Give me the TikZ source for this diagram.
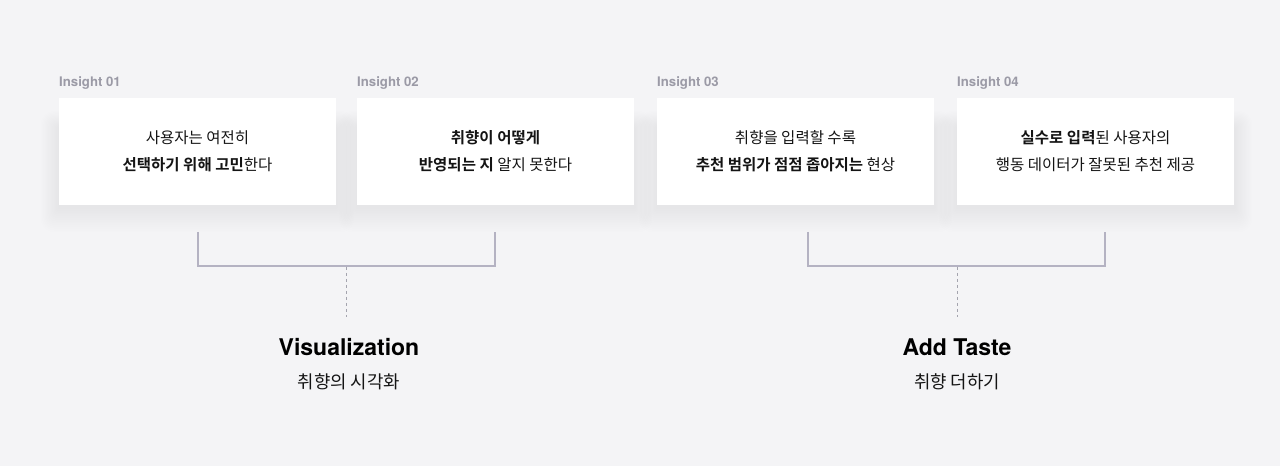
\documentclass[tikz,border=0pt]{standalone}
\usepackage{fontspec}
\setmainfont{TeX Gyre Heros}
\newfontfamily\krfont{Noto Sans CJK KR}[BoldFont={Noto Sans CJK KR Bold}]
\usepackage{tikz}
\usetikzlibrary{positioning}
\usetikzlibrary{backgrounds}
\definecolor{bg_gray}{HTML}{F4F4F6}
\definecolor{label_gray}{HTML}{9B9AA6}
\definecolor{line_gray}{HTML}{B4B2C2}
\definecolor{dash_gray}{HTML}{A4A4AE}
\definecolor{text_black}{HTML}{141414}
\definecolor{shade_gray}{HTML}{5A5A70}
\tikzset{
  card_box/.style={rectangle, fill=white, minimum width=277pt, minimum height=107pt, inner sep=0, align=center, text=text_black, font=\krfont\fontsize{15.5}{27}\selectfont},
  card_shade/.style={fill=shade_gray, fill opacity=0.0055},
  insight_label/.style={anchor=west, inner sep=0, text=label_gray, font=\bfseries\fontsize{13.2}{15}\selectfont},
  bracket_line/.style={line width=1.5pt, color=line_gray},
  dash_line/.style={line width=1pt, color=dash_gray, dash pattern=on 3pt off 3pt},
  title_text/.style={inner sep=0, text=black, font=\bfseries\fontsize{23}{26}\selectfont},
  sub_text/.style={inner sep=0, text=text_black, font=\krfont\fontsize{17.8}{20}\selectfont}
}

\begin{document}
\begin{tikzpicture}[x=1pt, y=1pt]

\begin{scope}[on background layer]
\fill[bg_gray] (0,0) rectangle (1280,466);
\end{scope}
\useasboundingbox (0,0) rectangle (1280,466);

% insight cards
\node[card_box] at (197.5,314.5) (card1) {사용자는 여전히\\\textbf{선택하기 위해 고민}한다};
\node[card_box] at (495.5,314.5) (card2) {\textbf{취향이 어떻게}\\\textbf{반영되는 지} 알지 못한다};
\node[card_box] at (795.5,314.5) (card3) {취향을 입력할 수록\\\textbf{추천 범위가 점점 좁아지는} 현상};
\node[card_box] at (1095.5,314.5) (card4) {\textbf{실수로 입력}된 사용자의\\행동 데이터가 잘못된 추천 제공};

% soft shadows under the cards
\begin{scope}[on background layer]
\foreach \c in {card1,card2,card3,card4}{
  \foreach \i in {1,...,14}{
    \fill[card_shade, rounded corners=\i pt] ([shift={(-\i*1.3pt,-\i*1.8pt-2pt)}]\c.south west) rectangle ([shift={(\i*1.3pt,-30pt+\i*1.2pt)}]\c.north east);
  }
}
\end{scope}

%%% labels
\node[insight_label] at (59,383) (ins1) {Insight 01};
\node[insight_label] at (357,383) (ins2) {Insight 02};
\node[insight_label] at (657,383) (ins3) {Insight 03};
\node[insight_label] at (957,383) (ins4) {Insight 04};

%%% left bracket
\coordinate (b1l) at (198,234);
\coordinate (b1r) at (495,234);
\coordinate (b1m) at (346,199);
\coordinate (d1) at (346,149);
\draw[bracket_line] (b1l) -- ++(0,-34) -| (b1r);
\draw[dash_line] (b1m) -- (d1);

%%% right bracket
\coordinate (b2l) at (808,234);
\coordinate (b2r) at (1105,234);
\coordinate (b2m) at (957,199);
\coordinate (d2) at (957,149);
\draw[bracket_line] (b2l) -- ++(0,-34) -| (b2r);
\draw[dash_line] (b2m) -- (d2);

% group titles
\node[title_text] at (349,119) (vis) {Visualization};
\node[sub_text] at (349,84) (vis_sub) {취향의 시각화};
\node[title_text] at (957,119) (taste) {Add Taste};
\node[sub_text] at (957,84) (taste_sub) {취향 더하기};

\end{tikzpicture}
\end{document}
